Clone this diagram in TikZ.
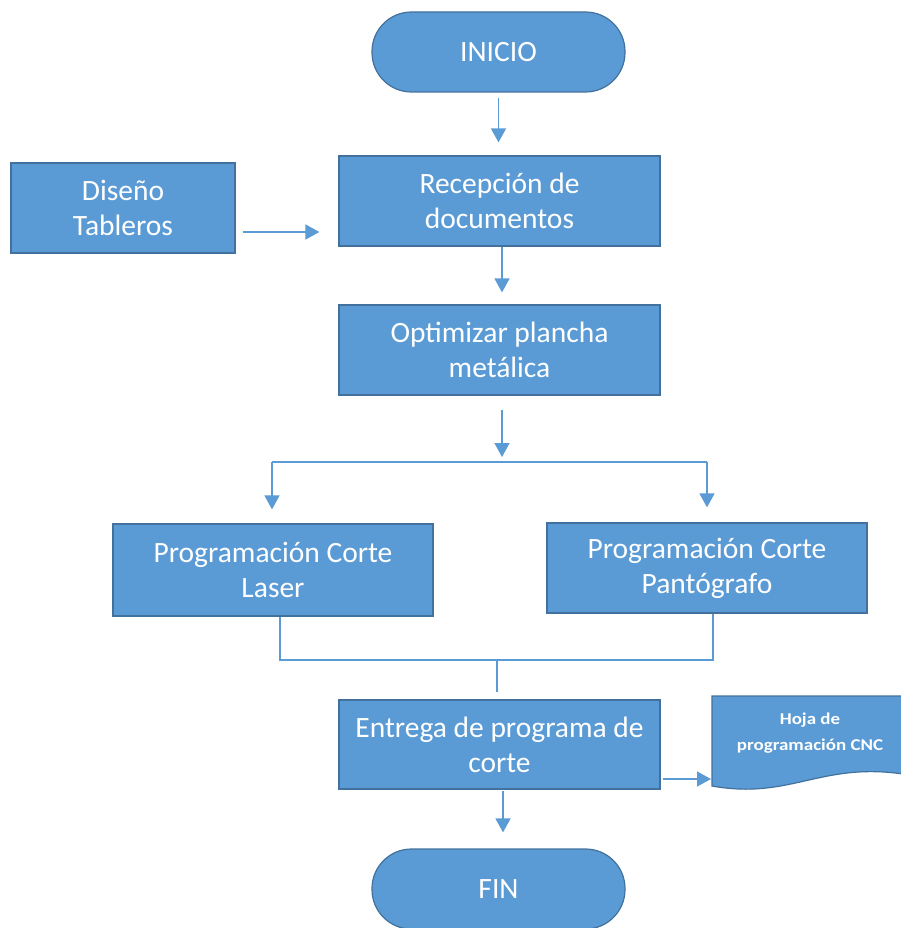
\documentclass[tikz,border=0pt]{standalone}
\usepackage{fontspec}
\setmainfont{Carlito}
\newfontfamily\docfont[FakeStretch=1.15]{Carlito}
\usetikzlibrary{arrows.meta}
\definecolor{fillblue}{HTML}{5B9BD5}
\definecolor{edgeblue}{HTML}{41719C}
\tikzset{
  boxnode/.style={draw=edgeblue, line width=1.2pt, fill=fillblue, text=white, align=center,
    inner sep=0pt, font=\fontsize{29.5}{35}\selectfont},
  termnode/.style={boxnode, rounded corners=39.5pt, minimum width=253, minimum height=80},
  link/.style={draw=fillblue, line width=1.5pt},
  arr/.style={link, -{Triangle[width=15pt,length=14pt]}},
}
\begin{document}
\begin{tikzpicture}[x=1pt,y=-1pt]
\useasboundingbox (0,0) rectangle (901,928);
% nodes
\node[termnode] (ini) at (498.5,52) {INICIO};
\node[boxnode, minimum width=321, minimum height=90] (rec) at (499.5,201) {Recepción de\\documentos};
\node[boxnode, minimum width=224, minimum height=90] (dis) at (123,208) {Diseño\\Tableros};
\node[boxnode, minimum width=321, minimum height=90] (opt) at (499.5,350) {Optimizar plancha\\metálica};
\node[boxnode, minimum width=320, minimum height=92] (las) at (273,570) {Programación Corte\\Laser};
\node[boxnode, minimum width=320, minimum height=90] (pan) at (707,568) {Programación Corte\\Pantógrafo};
\node[boxnode, minimum width=321, minimum height=89] (ent) at (499.5,744.5) {Entrega de programa de\\corte};
\node[termnode] (fin) at (498.5,889) {FIN};
% document shape
\draw[draw=edgeblue, line width=1.2pt, fill=fillblue]
  (712,696) -- (903,696) -- (903,774) .. controls (820,762) and (790,800) .. (712,786) -- cycle;
\node[text=white, align=center, font=\docfont\bfseries\fontsize{16.5}{26}\selectfont] (doc) at (810,733) {Hoja de\\programación CNC};
% coordinates
\coordinate (dr) at (0,232);
\coordinate (sp) at (502,462);
\coordinate (spl) at (272,462);
\coordinate (spr) at (707,462);
\coordinate (ml) at (280,660);
\coordinate (mr) at (713,660);
\coordinate (mm) at (497,660);
\coordinate (docin) at (711,779);
% connectors
\draw[arr, shorten <=5pt, shorten >=13pt] (ini.south) -- (ini.south |- rec.north);
\draw[arr, shorten <=7pt, shorten >=19pt] (dis.east |- dr) -- (rec.west |- dr);
\draw[arr, shorten >=12pt] ([xshift=2.5pt]rec.south) -- ([xshift=2.5pt]opt.north);
\draw[arr, shorten <=14pt, shorten >=5pt] (opt.south -| sp) -- (sp);
\draw[link] (spl) -- (spr);
\draw[arr, shorten >=14pt] (spl) -- (spl |- las.north);
\draw[arr, shorten >=15pt] (spr) -- (spr |- pan.north);
\draw[link] (ml |- las.south) -- (ml) -- (mr) -- (mr |- pan.south);
\draw[link, shorten <=1pt, shorten >=7pt] (mm) -- (mm |- ent.north);
\draw[arr, shorten <=2pt] (ent.east |- docin) -- (docin);
\draw[arr, shorten <=1pt, shorten >=16pt] ([xshift=3.5pt]ent.south) -- ([xshift=3.5pt]ent.south |- fin.north);
\end{tikzpicture}
\end{document}
